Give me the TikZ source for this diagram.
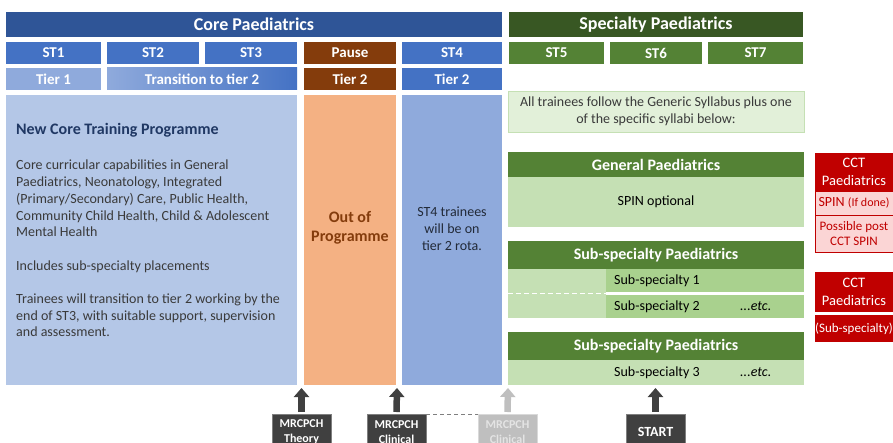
\documentclass[tikz,border=0pt]{standalone}
\usepackage{fontspec}
\setmainfont{Carlito}
\usetikzlibrary{arrows.meta}

\definecolor{coreblue}{HTML}{2F5597}
\definecolor{stblue}{HTML}{4472C4}
\definecolor{lightblue}{HTML}{8FAADC}
\definecolor{paleblue}{HTML}{B4C7E7}
\definecolor{navytext}{HTML}{203864}
\definecolor{slatetext}{HTML}{222A38}
\definecolor{greytext}{HTML}{3A3A3A}
\definecolor{pausebrown}{HTML}{843C0C}
\definecolor{ooporange}{HTML}{F4B183}
\definecolor{specgreen}{HTML}{385723}
\definecolor{stgreen}{HTML}{548235}
\definecolor{midgreen}{HTML}{A9D18E}
\definecolor{palegreen}{HTML}{C5E0B4}
\definecolor{mintgreen}{HTML}{E2F0D9}
\definecolor{cctred}{HTML}{C00000}
\definecolor{pinkbg}{HTML}{FBD5D5}
\definecolor{darkgrey}{HTML}{404040}
\definecolor{edgegrey}{HTML}{7F7F7F}
\definecolor{ghostgrey}{HTML}{BFBFBF}
\definecolor{ghosttext}{HTML}{E4E4E4}

\tikzset{
  cell/.style={anchor=north west, inner sep=0pt, outer sep=0pt, align=center, text=white},
  headcell/.style={cell, font=\bfseries\fontsize{18}{21}\selectfont},
  yearcell/.style={cell, font=\bfseries\fontsize{15}{18}\selectfont},
  plaintext/.style={inner sep=0pt, align=center, font=\fontsize{14}{16.8}\selectfont},
  cctcell/.style={cell, fill=cctred, font=\fontsize{14.5}{18}\selectfont, minimum width=78pt},
  spincell/.style={cell, fill=pinkbg, draw=cctred, line width=0.7pt, text=cctred, minimum width=78pt},
  examcell/.style={cell, fill=darkgrey, draw=edgegrey, line width=0.6pt, minimum width=59pt, minimum height=36pt, font=\bfseries\fontsize{12}{15.5}\selectfont},
  bigarrow/.style={line width=6.5pt, draw=darkgrey, -{Triangle[width=15pt,length=9pt]}},
}

\begin{document}
\begin{tikzpicture}[x=1pt,y=-1pt]
		%%%%% START %%%%%
		\useasboundingbox (0,0) rectangle (893,443);
		\clip (0,0) rectangle (893,443);
		\fill[white] (0,0) rectangle (893,443);
		
		% headers
		\node[headcell, fill=coreblue, minimum width=496pt, minimum height=25pt] (core) at (6,12) {Core Paediatrics};
		\node[headcell, fill=specgreen, minimum width=294pt, minimum height=25pt] (spec) at (509,12) {Specialty Paediatrics};
		
		% training years
		\node[yearcell, fill=stblue, minimum width=95pt, minimum height=22pt] (st1) at (6,42) {ST1};
		\node[yearcell, fill=stblue, minimum width=92pt, minimum height=22pt] (st2) at (107,42) {ST2};
		\node[yearcell, fill=stblue, minimum width=92pt, minimum height=22pt] (st3) at (205,42) {ST3};
		\node[yearcell, fill=pausebrown, minimum width=92pt, minimum height=22pt] (pause) at (304,42) {Pause};
		\node[yearcell, fill=stblue, minimum width=100pt, minimum height=22pt] (st4) at (402,42) {ST4};
		\node[yearcell, fill=stgreen, minimum width=95pt, minimum height=22pt] (st5) at (509,42) {ST5};
		\node[yearcell, fill=stgreen, minimum width=92pt, minimum height=22pt] (st6) at (610,42) {ST6};
		\node[yearcell, fill=stgreen, minimum width=95pt, minimum height=22pt] (st7) at (708,42) {ST7};
		
		% tiers
		\node[yearcell, fill=lightblue, minimum width=95pt, minimum height=22pt] (tier1) at (6,68) {Tier 1};
		\node[yearcell, left color=lightblue, right color=stblue, minimum width=190pt, minimum height=22pt] (trans) at (107,68) {Transition to tier 2};
		\node[yearcell, fill=pausebrown, minimum width=92pt, minimum height=22pt] (tier2a) at (304,68) {Tier 2};
		\node[yearcell, fill=stblue, minimum width=100pt, minimum height=22pt] (tier2b) at (402,68) {Tier 2};
		
		% core columns
		\node[cell, fill=paleblue, minimum width=291pt, minimum height=290pt] (corebox) at (6,95) {};
		\node[cell, fill=ooporange, minimum width=92pt, minimum height=290pt] (oopbox) at (304,95) {};
		\node[cell, fill=lightblue, minimum width=100pt, minimum height=290pt] (st4box) at (402,95) {};
		
		\node[anchor=base west, inner sep=0pt, font=\bfseries\fontsize{16}{19}\selectfont, text=navytext] (coretitle) at (16,135) {New Core Training Programme};
		\node[anchor=north west, inner sep=0pt, align=left, font=\fontsize{14}{16.7}\selectfont, text=greytext] (corebody) at (16,160)
		  {Core curricular capabilities in General\\
		   Paediatrics, Neonatology, Integrated\\
		   (Primary/Secondary) Care, Public Health,\\
		   Community Child Health, Child \& Adolescent\\
		   Mental Health\\[16.7pt]
		   Includes sub-specialty placements\\[16.7pt]
		   Trainees will transition to tier 2 working by the\\
		   end of ST3, with suitable support, supervision\\
		   and assessment.};
		\node[plaintext, font=\bfseries\fontsize{16}{19}\selectfont, text=pausebrown] (ooptext) at (350,228) {Out of\\Programme};
		\node[plaintext, text=slatetext] (st4text) at (452,229) {ST4 trainees\\will be on\\tier 2 rota.};
		
		% specialty side
		\node[cell, fill=mintgreen, draw=palegreen, line width=0.8pt, minimum width=296pt, minimum height=41pt, text=greytext, font=\fontsize{14}{17}\selectfont] (syllabus) at (508,91)
		  {All trainees follow the Generic Syllabus plus one\\of the specific syllabi below:};
		
		\node[cell, fill=stgreen, minimum width=296pt, minimum height=25pt, font=\bfseries\fontsize{16}{19}\selectfont] (genhead) at (508,152) {General Paediatrics};
		\node[cell, fill=palegreen, minimum width=296pt, minimum height=50pt, text=black, font=\fontsize{14}{17}\selectfont] (genbody) at (508,177) {SPIN optional};
		
		\node[cell, fill=stgreen, minimum width=296pt, minimum height=28pt, font=\bfseries\fontsize{16}{19}\selectfont] (subhead) at (508,241) {Sub-specialty Paediatrics};
		\node[cell, fill=palegreen, minimum width=98pt, minimum height=49pt] (subleft) at (508,269) {};
		\node[cell, fill=midgreen, minimum width=198pt, minimum height=23pt] (subone) at (606,269) {};
		\node[cell, fill=midgreen, minimum width=198pt, minimum height=23pt] (subtwo) at (606,295) {};
		\draw[white, line width=1.6pt, dash pattern=on 5pt off 3pt] (subleft.west |- 0,293.5) -- (subleft.east |- 0,293.5);
		\node[anchor=west, inner sep=0pt, font=\fontsize{14}{17}\selectfont] (subonetext) at (614,281) {Sub-specialty 1};
		\node[anchor=west, inner sep=0pt, font=\fontsize{14}{17}\selectfont] (subtwotext) at (614,306.5) {Sub-specialty 2};
		\node[anchor=west, inner sep=0pt, font=\itshape\fontsize{14}{17}\selectfont] (etcone) at (740,306.5) {...etc.};
		
		\node[cell, fill=stgreen, minimum width=296pt, minimum height=28pt, font=\bfseries\fontsize{16}{19}\selectfont] (subhead2) at (508,332) {Sub-specialty Paediatrics};
		\node[cell, fill=palegreen, minimum width=296pt, minimum height=25pt] (subthree) at (508,360) {};
		\node[anchor=west, inner sep=0pt, font=\fontsize{14}{17}\selectfont] (subthreetext) at (614,372.5) {Sub-specialty 3};
		\node[anchor=west, inner sep=0pt, font=\itshape\fontsize{14}{17}\selectfont] (etctwo) at (740,372.5) {...etc.};
		
		% certificates
		\node[cctcell, minimum height=38pt] (cctgen) at (815,153) {CCT\\Paediatrics};
		\node[spincell, minimum height=24pt, font=\fontsize{14}{16}\selectfont] (spin) at (815,191) {SPIN {\fontsize{12}{14}\selectfont(If done)}};
		\node[spincell, minimum height=37pt, font=\fontsize{13}{15}\selectfont] (postspin) at (815,215) {Possible post\\CCT SPIN};
		\node[cctcell, minimum height=40pt] (cctsub) at (815,272) {CCT\\Paediatrics};
		\node[cctcell, minimum height=27pt, font=\fontsize{13}{15}\selectfont] (subcct) at (815,315) {(Sub-specialty)};
		
		% exams and start
		\node[examcell] (theory) at (272,414) {MRCPCH\\Theory};
		\node[examcell] (clinical) at (367,414) {MRCPCH\\Clinical};
		\node[examcell, fill=ghostgrey, draw=ghostgrey!60, text=ghosttext] (clinlate) at (478,414) {MRCPCH\\Clinical};
		\node[examcell, font=\bfseries\fontsize{14}{17}\selectfont] (start) at (626,414) {START};
		
		\coordinate (theorytip) at (301.5,388);
		\coordinate (clinicaltip) at (397,388);
		\coordinate (clinlatetip) at (508,388);
		\coordinate (starttip) at (655.5,388);
		
		\draw[bigarrow] ([yshift=2pt]theory.north) -- (theorytip);
		\draw[bigarrow] ([yshift=2pt]clinical.north) -- (clinicaltip);
		\draw[bigarrow, draw=ghostgrey] ([yshift=2pt]clinlate.north) -- (clinlatetip);
		\draw[bigarrow] ([yshift=2pt]start.north) -- (starttip);
		
		\draw[edgegrey, line width=1pt, dash pattern=on 4pt off 3pt] (clinical.north east) -- (clinlate.north west);
		
		%%%%% END %%%%%
	\end{tikzpicture}
\end{document}
